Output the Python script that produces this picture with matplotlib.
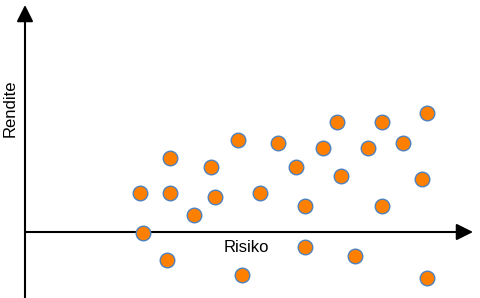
import matplotlib
matplotlib.use("Agg")
import matplotlib.pyplot as plt

# Risiko / Rendite values (axis origin = crossing point of the arrows)
risiko = [115, 145, 145, 186, 190, 169, 118, 142, 213, 217,
          253, 312, 357, 402, 298, 343, 378, 271, 316, 397,
          235, 280, 357, 280, 330, 402]
rendite = [39, 74, 39, 65, 35, 17, -1, -28, 92, -43,
           89, 110, 110, 119, 84, 84, 89, 65, 56, 53,
           39, 26, 26, -15, -24, -46]

x_label = "Risiko"
y_label = "Rendite"


def main() -> None:
    plt.rcParams["font.family"] = ["Liberation Sans", "DejaVu Sans"]

    fig = plt.figure(figsize=(4.8, 2.98), dpi=100)
    ax = fig.add_axes([0, 0, 1, 1])
    ax.set_xlim(-25, 455)
    ax.set_ylim(-66, 232)
    ax.axis("off")

    arrow = dict(arrowstyle="-|>,head_length=0.5,head_width=0.25",
                 color="black", lw=1.5, mutation_scale=20,
                 shrinkA=0, shrinkB=0)
    # x axis
    ax.annotate("", xy=(448, 0), xytext=(0, 0), arrowprops=arrow)
    # y axis
    ax.annotate("", xy=(0, 227), xytext=(0, -66), arrowprops=arrow)

    ax.scatter(risiko, rendite, s=110, color="#ff8000",
               edgecolors="#4f81bd", linewidths=1, zorder=3)

    ax.text(221, -16, x_label, fontsize=12, ha="center", va="center")
    ax.text(-15, 124, y_label, fontsize=12, ha="center", va="center",
            rotation=90)

    fig.savefig("out.png", dpi=100)


if __name__ == "__main__":
    main()
